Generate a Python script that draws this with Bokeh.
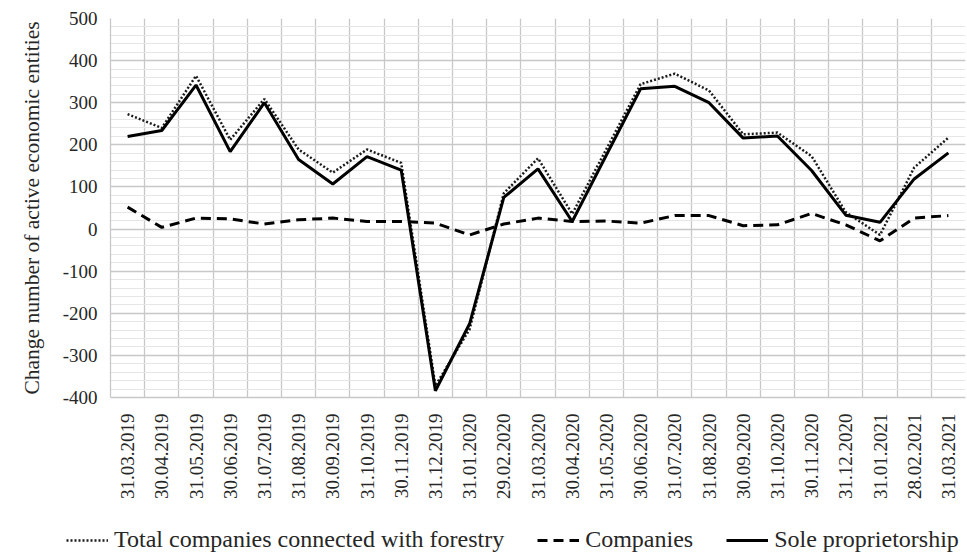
from bokeh.plotting import figure
from bokeh.layouts import column, row
from bokeh.models import FixedTicker, Legend, LegendItem, ColumnDataSource
from bokeh.embed import file_html
from bokeh.resources import INLINE
from math import pi

dates = ["31.03.2019", "30.04.2019", "31.05.2019", "30.06.2019", "31.07.2019",
         "31.08.2019", "30.09.2019", "31.10.2019", "30.11.2019", "31.12.2019",
         "31.01.2020", "29.02.2020", "31.03.2020", "30.04.2020", "31.05.2020",
         "30.06.2020", "31.07.2020", "31.08.2020", "30.09.2020", "31.10.2020",
         "30.11.2020", "31.12.2020", "31.01.2021", "28.02.2021", "31.03.2021"]

total = [273, 240, 364, 212, 309, 189, 134, 189, 157, -372, -238, 85, 168, 36, 190,
         344, 369, 329, 225, 229, 173, 40, -14, 146, 217]
companies = [52, 4, 26, 24, 12, 22, 26, 18, 18, 14, -14, 12, 26, 18, 19,
             14, 32, 32, 8, 10, 37, 10, -28, 26, 32]
sole = [220, 234, 342, 184, 300, 165, 107, 172, 140, -384, -225, 75, 143, 18, 176,
        333, 339, 300, 216, 221, 139, 33, 16, 119, 181]

series_names = ["Total companies connected with forestry", "Companies", "Sole proprietorship"]

y_ticks = [-400, -300, -200, -100, 0, 100, 200, 300, 400, 500]
y_labels = ["-400", "-300", "-200", "-100", "0", "100", "200", "300", "400", "500"]

FONT = "Liberation Serif"
TXT = "#262626"
GRID = "#c8c8c8"

idx = list(range(len(dates)))
src = ColumnDataSource(dict(x=idx, total=total, companies=companies, sole=sole))

p = figure(width=967, height=505, output_backend="svg", toolbar_location=None,
           x_range=(-0.5, len(dates) - 0.5), y_range=(-400, 500),
           min_border_left=110, min_border_right=2, min_border_top=18,
           min_border_bottom=108)
p.outline_line_color = None
p.background_fill_color = "white"

# grids
p.xgrid.ticker = FixedTicker(ticks=[i - 0.5 for i in range(len(dates) + 1)])
p.xgrid.grid_line_color = GRID
p.xgrid.grid_line_width = 1.3
p.yaxis.ticker = FixedTicker(ticks=y_ticks, minor_ticks=list(range(-400, 501, 20)))
p.ygrid.grid_line_color = GRID
p.ygrid.grid_line_width = 1.3
p.ygrid.minor_grid_line_color = "#e6e6e6"
p.ygrid.minor_grid_line_width = 1

# axes
p.xaxis.ticker = FixedTicker(ticks=idx)
p.xaxis.major_label_overrides = {i: d for i, d in enumerate(dates)}
p.xaxis.major_label_orientation = pi / 2
p.xaxis.major_label_text_font = FONT
p.xaxis.major_label_text_font_size = "19px"
p.xaxis.major_label_text_color = TXT
p.xaxis.major_label_standoff = 10
p.xaxis.major_tick_line_color = None
p.xaxis.minor_tick_line_color = None
p.xaxis.axis_line_color = GRID
p.xaxis.axis_line_width = 1.3

p.yaxis.major_label_overrides = {t: l for t, l in zip(y_ticks, y_labels)}
p.yaxis.major_label_text_font = FONT
p.yaxis.major_label_text_font_size = "19px"
p.yaxis.major_label_text_color = TXT
p.yaxis.major_label_standoff = 7
p.yaxis.major_tick_line_color = None
p.yaxis.minor_tick_line_color = None
p.yaxis.axis_line_color = GRID
p.yaxis.axis_line_width = 1.3
p.yaxis.axis_label = "Change number of active economic entities"
p.yaxis.axis_label_text_font = FONT
p.yaxis.axis_label_text_font_size = "21.5px"
p.yaxis.axis_label_text_font_style = "normal"
p.yaxis.axis_label_text_color = TXT
p.yaxis.axis_label_standoff = 16

styles = [dict(line_color="#1a1a1a", line_width=2.5, line_dash="2 2"),
          dict(line_color="black", line_width=3, line_dash="10 6"),
          dict(line_color="black", line_width=3)]
cols = ["total", "companies", "sole"]

for col, st in zip(cols, styles):
    p.line("x", col, source=src, **st)

# legend strip below the chart (its series lie outside its empty view range)
lg = figure(width=967, height=48, output_backend="svg", toolbar_location=None,
            x_range=(-0.5, len(dates) - 0.5), y_range=(5000, 5001),
            x_axis_type=None, y_axis_type=None, min_border=0)
lg.outline_line_color = None
lg.grid.visible = False
items = []
for name, col, st in zip(series_names, cols, styles):
    r = lg.line("x", col, source=src, **st)
    items.append(LegendItem(label=name, renderers=[r]))

legend = Legend(items=items, orientation="horizontal", location=(66, 0))
legend.label_text_font = FONT
legend.label_text_font_size = "24px"
legend.label_text_color = TXT
legend.glyph_width = 42
legend.label_standoff = 6
legend.spacing = 33
legend.padding = 0
legend.margin = 0
legend.border_line_color = None
legend.background_fill_alpha = 0
lg.add_layout(legend, "center")

layout = column(p, row(lg), spacing=0)
open("out.html", "w").write(file_html(layout, INLINE))
